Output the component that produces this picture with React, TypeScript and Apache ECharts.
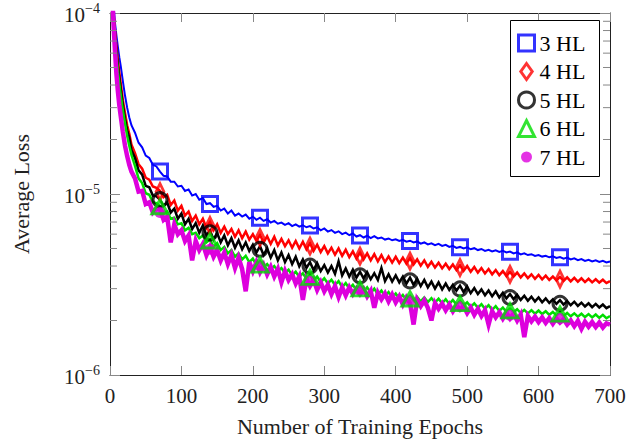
import React, { useEffect, useRef } from 'react';
import * as echarts from 'echarts';

// Training epochs at which the loss curves are sampled
const epochs = [
  1, 3, 5, 7, 9, 11, 13, 15, 18, 21, 24, 27, 30, 35, 40, 45, 50, 55, 60, 65,
  70, 75, 80, 85, 90, 95, 100, 105, 110, 115,
  120, 125, 130, 135, 140, 145, 150, 155, 160, 165,
  170, 175, 180, 185, 190, 195, 200, 205, 210, 215,
  220, 225, 230, 235, 240, 245, 250, 255, 260, 265,
  270, 275, 280, 285, 290, 295, 300, 305, 310, 315,
  320, 325, 330, 335, 340, 345, 350, 355, 360, 365,
  370, 375, 380, 385, 390, 395, 400, 405, 410, 415,
  420, 425, 430, 435, 440, 445, 450, 455, 460, 465,
  470, 475, 480, 485, 490, 495, 500, 505, 510, 515,
  520, 525, 530, 535, 540, 545, 550, 555, 560, 565,
  570, 575, 580, 585, 590, 595, 600, 605, 610, 615,
  620, 625, 630, 635, 640, 645, 650, 655, 660, 665,
  670, 675, 680, 685, 690, 695, 700,
];

// Average loss, in units of 1e-6
const loss3HL = [
  300, 160, 110, 88, 75, 65, 57, 51, 42, 35, 30, 26.5, 24, 21.8, 19.2, 18.1, 16.3, 15.8, 14.5, 14.2,
  13.3, 12.6, 12.5, 11.7, 11.7, 11.0, 11.1, 10.4, 10.6, 9.8,
  10.0, 9.3, 9.5, 8.8, 8.9, 8.5, 8.6, 8.1, 8.3, 7.8,
  8.1, 7.6, 7.8, 7.5, 7.7, 7.3, 7.5, 7.2, 7.4, 7.1,
  7.25, 6.95, 7.1, 6.85, 6.95, 6.75, 6.9, 6.65, 6.8, 6.6,
  6.72, 6.55, 6.65, 6.45, 6.55, 6.3, 6.45, 6.2, 6.32, 6.1,
  6.22, 6.0, 6.12, 5.92, 6.05, 5.82, 5.92, 5.75, 5.88, 5.7,
  5.85, 5.68, 5.75, 5.6, 5.68, 5.55, 5.62, 5.5, 5.58, 5.45,
  5.52, 5.4, 5.47, 5.32, 5.4, 5.27, 5.34, 5.22, 5.3, 5.17,
  5.24, 5.1, 5.17, 5.04, 5.1, 5.0, 5.07, 4.95, 5.02, 4.9,
  4.97, 4.85, 4.92, 4.82, 4.88, 4.79, 4.85, 4.75, 4.81, 4.7,
  4.76, 4.64, 4.7, 4.6, 4.65, 4.55, 4.6, 4.51, 4.56, 4.47,
  4.53, 4.43, 4.48, 4.39, 4.45, 4.35, 4.41, 4.31, 4.37, 4.27,
  4.33, 4.24, 4.3, 4.21, 4.27, 4.19, 4.24,
];

const loss4HL = [
  300, 150, 100, 80, 65, 55, 47, 41, 33, 28, 24, 21.5, 18.8, 16.8, 14.6, 13.8, 12.3, 12.0, 11.0, 10.8,
  10.4, 9.6, 9.9, 8.7, 9.2, 8.1, 8.6, 7.6, 8.0, 7.1,
  7.6, 6.8, 7.3, 6.5, 7.0, 6.3, 6.8, 6.1, 6.6, 6.0,
  6.4, 5.8, 6.3, 5.7, 6.2, 5.6, 6.0, 5.5, 5.95, 5.4,
  5.85, 5.3, 5.8, 5.2, 5.65, 5.15, 5.55, 5.05, 5.5, 5.0,
  5.45, 4.95, 5.35, 4.85, 5.25, 4.78, 5.15, 4.7, 5.05, 4.62,
  5.0, 4.55, 4.92, 4.48, 4.82, 4.4, 4.75, 4.35, 4.7, 4.3,
  4.65, 4.25, 4.6, 4.2, 4.52, 4.18, 4.5, 4.15, 4.45, 4.12,
  4.42, 4.08, 4.35, 4.02, 4.3, 3.96, 4.22, 3.92, 4.17, 3.88,
  4.12, 3.85, 4.08, 3.8, 4.04, 3.76, 4.0, 3.72, 3.95, 3.68,
  3.9, 3.64, 3.85, 3.6, 3.8, 3.56, 3.75, 3.52, 3.72, 3.5,
  3.68, 3.46, 3.64, 3.43, 3.6, 3.4, 3.57, 3.38, 3.54, 3.35,
  3.5, 3.33, 3.48, 3.31, 3.46, 3.29, 3.44, 3.28, 3.42, 3.26,
  3.4, 3.25, 3.38, 3.24, 3.36, 3.22, 3.3,
];

const loss5HL = [
  300, 145, 95, 75, 61, 51, 44, 38, 31, 26, 22.5, 20.5, 17.5, 15.8, 13.5, 12.8, 11.1, 10.9, 9.8, 9.7,
  9.3, 8.6, 9.0, 7.9, 8.3, 7.3, 7.8, 6.8, 7.3, 6.4,
  6.9, 6.1, 6.7, 5.9, 6.3, 5.6, 6.1, 5.4, 5.9, 5.2,
  5.7, 5.05, 5.55, 4.95, 5.4, 4.85, 5.25, 4.75, 5.15, 4.6,
  5.0, 4.45, 4.9, 4.3, 4.75, 4.2, 4.6, 4.1, 4.5, 3.98,
  4.35, 3.9, 4.2, 3.8, 4.15, 3.75, 4.05, 3.68, 4.0, 3.62,
  4.25, 3.55, 3.88, 3.5, 3.82, 3.45, 3.72, 3.42, 3.7, 3.38,
  3.65, 3.35, 3.9, 3.3, 3.6, 3.28, 3.55, 3.25, 3.5, 3.2,
  3.45, 3.15, 3.4, 3.1, 3.35, 3.05, 3.28, 3.0, 3.25, 2.97,
  3.2, 2.95, 3.15, 2.92, 3.12, 2.87, 3.08, 2.83, 3.02, 2.8,
  2.97, 2.76, 2.93, 2.72, 2.9, 2.68, 2.85, 2.65, 2.8, 2.62,
  2.77, 2.6, 2.74, 2.57, 2.71, 2.55, 2.68, 2.52, 2.65, 2.5,
  2.62, 2.47, 2.59, 2.45, 2.56, 2.43, 2.54, 2.41, 2.51, 2.39,
  2.49, 2.37, 2.47, 2.36, 2.45, 2.34, 2.4,
];

const loss6HL = [
  300, 140, 92, 72, 58, 48, 41, 35.5, 29, 24.5, 21, 18.5, 16.5, 14.3, 12.2, 11.5, 10.1, 9.9, 9.0, 8.9,
  8.6, 7.9, 8.0, 7.3, 7.4, 6.8, 6.9, 6.3, 6.5, 6.0,
  6.1, 5.7, 5.9, 5.4, 5.6, 5.1, 5.35, 4.9, 5.1, 4.7,
  4.9, 4.5, 4.7, 4.35, 4.55, 4.2, 4.4, 4.05, 4.25, 3.95,
  4.1, 3.85, 4.0, 3.75, 3.9, 3.65, 3.82, 3.55, 3.72, 3.48,
  3.65, 3.4, 3.58, 3.33, 3.5, 3.26, 3.42, 3.2, 3.36, 3.14,
  3.3, 3.06, 3.22, 3.0, 3.15, 2.94, 3.1, 2.9, 3.05, 2.84,
  3.0, 2.78, 2.93, 2.72, 2.87, 2.68, 2.82, 2.64, 2.77, 2.6,
  2.73, 2.57, 2.7, 2.55, 2.68, 2.53, 2.66, 2.51, 2.64, 2.49,
  2.62, 2.47, 2.6, 2.45, 2.56, 2.42, 2.52, 2.38, 2.49, 2.35,
  2.46, 2.32, 2.43, 2.29, 2.4, 2.26, 2.36, 2.23, 2.33, 2.22,
  2.31, 2.2, 2.29, 2.19, 2.28, 2.18, 2.27, 2.17, 2.25, 2.15,
  2.23, 2.13, 2.22, 2.12, 2.2, 2.11, 2.19, 2.1, 2.18, 2.09,
  2.17, 2.08, 2.16, 2.07, 2.15, 2.06, 2.12,
];

const loss7HL = [
  300, 130, 85, 62, 46, 37, 31, 27, 22, 18.5, 16.2, 14.5, 13.3, 12.2, 10.3, 10.4, 8.8, 9.0, 7.9, 8.3,
  8.2, 7.2, 7.5, 5.4, 6.8, 6.0, 6.3, 5.5, 5.9, 4.3,
  5.5, 4.9, 5.3, 4.6, 5.1, 4.5, 4.9, 4.3, 4.75, 4.1,
  4.6, 3.9, 4.45, 3.85, 2.9, 4.2, 3.75, 4.2, 3.7, 4.05,
  3.6, 3.95, 3.5, 3.85, 3.25, 3.75, 3.35, 3.6, 3.2, 3.5,
  2.6, 3.4, 3.1, 3.35, 2.95, 3.25, 2.9, 3.15, 2.8, 3.1,
  2.7, 3.05, 2.75, 3.05, 2.8, 3.0, 2.8, 2.98, 2.72, 2.92,
  2.35, 2.85, 2.62, 2.82, 2.55, 2.78, 2.52, 2.72, 2.45, 2.68,
  2.5, 1.9, 2.6, 2.4, 2.58, 2.35, 2.0, 2.5, 2.32, 2.48,
  2.28, 2.45, 2.25, 2.42, 2.3, 2.4, 2.2, 2.36, 2.15, 2.32,
  2.12, 2.28, 1.9, 2.25, 2.08, 2.22, 2.05, 2.2, 2.05, 2.18,
  2.0, 2.16, 1.62, 2.12, 1.98, 2.1, 1.96, 2.08, 1.94, 2.06,
  1.92, 2.05, 1.95, 2.03, 1.9, 2.0, 1.86, 1.99, 1.8, 1.97,
  1.85, 1.96, 1.84, 1.95, 1.83, 1.93, 1.9,
];

// Marker positions (every 70 epochs), loss in units of 1e-6
const markerEpochs = [70, 140, 210, 280, 350, 420, 490, 560, 630];
const marker3HL = [13.3, 8.8, 7.4, 6.7, 5.9, 5.5, 5.08, 4.8, 4.47];
const marker4HL = [10.3, 6.7, 5.75, 5.16, 4.54, 4.26, 3.92, 3.6, 3.39];
const marker5HL = [9.3, 6.1, 4.95, 4.0, 3.53, 3.31, 2.99, 2.68, 2.49];
const marker6HL = [8.5, 5.5, 4.05, 3.46, 2.99, 2.63, 2.48, 2.26, 2.17];
const marker7HL = [7.9, 4.95, 4.0, 3.3, 2.93, 2.57, 2.38, 2.14, 2.05];

const seriesNames = ['3 HL', '4 HL', '5 HL', '6 HL', '7 HL'];
const minorTickValues = [2, 3, 4, 5, 6, 7, 8, 9, 20, 30, 40, 50, 60, 70, 80, 90];

const SERIF = 'Liberation Serif';
const COLORS = ['#0000ff', '#ff0000', '#000000', '#00dd00', '#dd00dd'];
const DIAMOND = 'path://M5,0L10,7L5,14L0,7Z';
// small filled dot inside a 16x16 box (phantom moves keep the box size)
const SMALL_DOT = 'path://M0,0M16,16M13.5,8A5.5,5.5,0,1,1,2.5,8A5.5,5.5,0,1,1,13.5,8Z';

export default function App() {
  const ref = useRef<HTMLDivElement>(null);

  useEffect(() => {
    if (!ref.current) return;
    const chart = echarts.init(ref.current, undefined, { renderer: 'svg' });

    const lines = [loss3HL, loss4HL, loss5HL, loss6HL, loss7HL];
    const markers = [marker3HL, marker4HL, marker5HL, marker6HL, marker7HL];
    const symbols: any[] = ['rect', DIAMOND, 'circle', 'triangle', 'circle'];
    const legendIcons: any[] = ['rect', DIAMOND, 'circle', 'triangle', SMALL_DOT];
    const sizes: any[] = [15, [11, 16], 14, [16, 14], 11];
    const borderWidths = [3, 3, 3, 3, 0];
    const filled = [false, false, false, false, true];
    const widths = [2, 2.5, 2.5, 2.5, 4.5];

    const lineSeries = lines.map((vals, i) => ({
      type: 'line',
      name: seriesNames[i] + ' curve',
      data: epochs.map((e, j) => [e, vals[j]]),
      showSymbol: false,
      symbol: 'none',
      lineStyle: { color: COLORS[i], width: widths[i], join: 'miter', miterLimit: 4 },
      itemStyle: { color: COLORS[i] },
      silent: true,
      clip: true,
      z: 2,
    }));

    const itemStyleFor = (i: number) => ({
      color: filled[i] ? COLORS[i] : 'rgba(0,0,0,0)',
      borderColor: COLORS[i],
      borderWidth: borderWidths[i],
    });

    const markerOrder = [0, 1, 2, 4, 3];
    const markerSeries = markerOrder.map((i) => ({
      type: 'scatter',
      name: seriesNames[i],
      data: markerEpochs.map((e, j) => [e, markers[i][j]]),
      symbol: symbols[i],
      symbolSize: sizes[i],
      symbolKeepAspect: true,
      itemStyle: itemStyleFor(i),
      silent: true,
      z: 3,
    }));

    const minorTickSeries = {
      type: 'custom',
      name: 'minor ticks',
      data: minorTickValues.map((v) => [0, v]),
      encode: { x: 0, y: 1 },
      silent: true,
      clip: false,
      z: 4,
      renderItem: (params: any, api: any) => {
        const y = api.coord([0, api.value(1)])[1];
        const cs = params.coordSys;
        const st = { stroke: '#888888', lineWidth: 1 };
        return {
          type: 'group',
          children: [
            { type: 'line', shape: { x1: cs.x, y1: y, x2: cs.x + 7, y2: y }, style: st },
            { type: 'line', shape: { x1: cs.x + cs.width, y1: y, x2: cs.x + cs.width - 7, y2: y }, style: st },
          ],
        };
      },
    };

    const axisLine = { show: true, onZero: false, lineStyle: { color: '#222', width: 1 } };
    const xTick = { show: true, inside: true, length: 9, lineStyle: { color: '#888' } };
    const yTick = { show: true, inside: true, length: 10, lineStyle: { color: '#888' } };

    const logLabel = (v: number) => {
      const e = Math.round(Math.log10(v)) - 6;
      return '{a|10}{b|' + (e < 0 ? '\u2212' : '') + Math.abs(e) + '}';
    };

    chart.setOption({
      animation: false,
      backgroundColor: '#ffffff',
      textStyle: { fontFamily: SERIF },
      grid: { left: 110, right: 33, top: 13, bottom: 66, containLabel: false },
      graphic: [
        {
          type: 'rect',
          z: 10,
          shape: { x: 510.5, y: 20.5, width: 89, height: 156 },
          style: { fill: '#ffffff', stroke: '#000000', lineWidth: 1 },
          silent: true,
        },
      ],
      legend: {
        z: 20,
        left: 517,
        top: 32,
        orient: 'vertical',
        borderWidth: 0,
        padding: 0,
        itemGap: 6.5,
        itemWidth: 16,
        itemHeight: 16,
        selectedMode: false,
        textStyle: { fontFamily: SERIF, fontSize: 22, color: '#000' },
        data: seriesNames.map((n, i) => ({
          name: n,
          icon: legendIcons[i],
          itemStyle: itemStyleFor(i),
        })),
      },
      xAxis: [
        {
          type: 'value',
          min: 0,
          max: 700,
          interval: 100,
          position: 'bottom',
          axisLine,
          axisTick: xTick,
          splitLine: { show: false },
          axisLabel: { fontFamily: SERIF, fontSize: 21, color: '#222', margin: 10 },
          name: 'Number of Training Epochs',
          nameLocation: 'middle',
          nameGap: 40,
          nameTextStyle: { fontFamily: SERIF, fontSize: 22, color: '#222' },
        },
        {
          type: 'value',
          min: 0,
          max: 700,
          interval: 100,
          position: 'top',
          axisLine,
          axisTick: xTick,
          splitLine: { show: false },
          axisLabel: { show: false },
        },
      ],
      yAxis: [
        {
          type: 'log',
          logBase: 10,
          min: 1,
          max: 100,
          position: 'left',
          axisLine,
          axisTick: yTick,
          splitLine: { show: false },
          axisLabel: {
            margin: 10,
            fontFamily: SERIF,
            formatter: logLabel,
            rich: {
              a: { fontFamily: SERIF, fontSize: 21, color: '#222', padding: [3, 0, 0, 0] },
              b: { fontFamily: SERIF, fontSize: 14, color: '#222', verticalAlign: 'top' },
            },
          },
          name: 'Average Loss',
          nameLocation: 'middle',
          nameGap: 78,
          nameTextStyle: { fontFamily: SERIF, fontSize: 22, color: '#222' },
        },
        {
          type: 'log',
          logBase: 10,
          min: 1,
          max: 100,
          position: 'right',
          axisLine,
          axisTick: yTick,
          splitLine: { show: false },
          axisLabel: { show: false },
        },
      ],
      series: [...lineSeries, ...markerSeries, minorTickSeries],
    });

    return () => chart.dispose();
  }, []);

  return (
    <div
      ref={ref}
      style={{ position: 'absolute', left: 0, top: 0, width: 643, height: 442, background: '#fff' }}
    />
  );
}
